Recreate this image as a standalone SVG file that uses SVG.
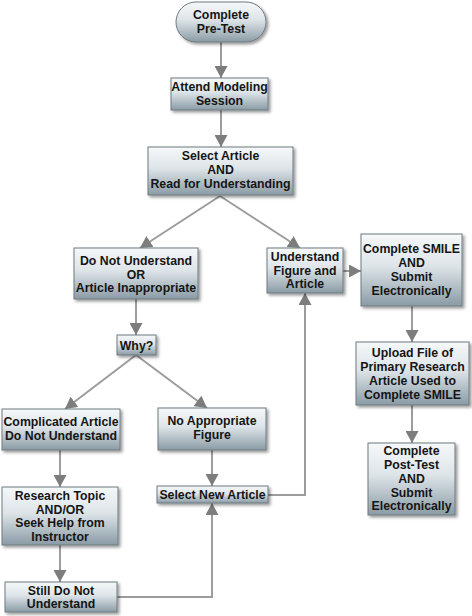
<svg xmlns="http://www.w3.org/2000/svg" width="472" height="616" viewBox="0 0 472 616">
<defs>
<linearGradient id="g" x1="0" y1="0" x2="0" y2="1">
<stop offset="0" stop-color="#f6f8f9"/>
<stop offset="0.45" stop-color="#dde4e8"/>
<stop offset="1" stop-color="#8a9ba5"/>
</linearGradient>
<filter id="sh" x="-10%" y="-10%" width="130%" height="140%">
<feDropShadow dx="2" dy="2" stdDeviation="1.5" flood-color="#000" flood-opacity="0.4"/>
</filter>
<marker id="ah" markerUnits="userSpaceOnUse" markerWidth="13" markerHeight="13" viewBox="0 0 12 12" refX="11" refY="6" orient="auto">
<path d="M0,0 L11,6 L0,12 Z" fill="#7d7d7d"/>
</marker>
<style>
.box{fill:url(#g);stroke:#6f7a80;stroke-width:1;filter:url(#sh)}
.t{font-family:"Liberation Sans",Arial,sans-serif;font-weight:bold;font-size:12.3px;fill:#151515;text-anchor:middle}
.c{fill:none;stroke:#9c9c9c;stroke-width:2}
.a{marker-end:url(#ah)}
</style>
</defs>
<g id="connectors">
<line class="c a" x1="221" y1="42" x2="221" y2="78"/>
<line class="c a" x1="221" y1="110" x2="221" y2="147"/>
<line class="c a" x1="220" y1="196" x2="140" y2="248"/>
<line class="c a" x1="220" y1="196" x2="300" y2="248"/>
<line class="c a" x1="136" y1="299" x2="136" y2="335"/>
<line class="c a" x1="136" y1="355" x2="65" y2="409"/>
<line class="c a" x1="136" y1="355" x2="207" y2="408"/>
<line class="c a" x1="343" y1="271" x2="361" y2="271"/>
<line class="c a" x1="412" y1="306" x2="412" y2="342"/>
<line class="c a" x1="412" y1="405" x2="412" y2="443"/>
<line class="c a" x1="60" y1="450" x2="60" y2="487"/>
<line class="c a" x1="60" y1="545" x2="60" y2="582"/>
<line class="c a" x1="212" y1="450" x2="212" y2="486"/>
<polyline class="c a" points="117,597 212,597 212,503"/>
<polyline class="c a" points="268,495 305,495 305,293"/>
</g>
<g id="pretest">
<rect class="box" x="176" y="2" width="90" height="40" rx="20"/>
<text class="t" x="221" y="19">Complete</text>
<text class="t" x="221" y="32.5">Pre-Test</text>
</g>
<g id="attend">
<rect class="box" x="171" y="78" width="97" height="32"/>
<text class="t" x="219.5" y="91">Attend Modeling</text>
<text class="t" x="219.5" y="104.5">Session</text>
</g>
<g id="select">
<rect class="box" x="148" y="147" width="145" height="48"/>
<text class="t" x="220.5" y="160">Select Article</text>
<text class="t" x="220.5" y="174">AND</text>
<text class="t" x="220.5" y="188">Read for Understanding</text>
</g>
<g id="dnu">
<rect class="box" x="74" y="248" width="124" height="51"/>
<text class="t" x="136" y="265">Do Not Understand</text>
<text class="t" x="136" y="278.5">OR</text>
<text class="t" x="136" y="292">Article Inappropriate</text>
</g>
<g id="why">
<rect class="box" x="117" y="335" width="39" height="20"/>
<text class="t" x="136.5" y="349.5">Why?</text>
</g>
<g id="understand">
<rect class="box" x="267" y="248" width="76" height="45"/>
<text class="t" x="305" y="261">Understand</text>
<text class="t" x="305" y="274.5">Figure and</text>
<text class="t" x="305" y="288">Article</text>
</g>
<g id="smile">
<rect class="box" x="361" y="234" width="101" height="72"/>
<text class="t" x="411.5" y="253">Complete SMILE</text>
<text class="t" x="411.5" y="267">AND</text>
<text class="t" x="411.5" y="281">Submit</text>
<text class="t" x="411.5" y="295">Electronically</text>
</g>
<g id="upload">
<rect class="box" x="356" y="342" width="113" height="63"/>
<text class="t" x="412.5" y="357">Upload File of</text>
<text class="t" x="412.5" y="371">Primary Research</text>
<text class="t" x="412.5" y="385">Article Used to</text>
<text class="t" x="412.5" y="399">Complete SMILE</text>
</g>
<g id="posttest">
<rect class="box" x="368" y="443" width="87" height="72"/>
<text class="t" x="411.5" y="455">Complete</text>
<text class="t" x="411.5" y="469">Post-Test</text>
<text class="t" x="411.5" y="483">AND</text>
<text class="t" x="411.5" y="496.5">Submit</text>
<text class="t" x="411.5" y="510">Electronically</text>
</g>
<g id="complicated">
<rect class="box" x="2" y="409" width="118" height="41"/>
<text class="t" x="61" y="426">Complicated Article</text>
<text class="t" x="61" y="440">Do Not Understand</text>
</g>
<g id="nofig">
<rect class="box" x="158" y="408" width="108" height="42"/>
<text class="t" x="212" y="425">No Appropriate</text>
<text class="t" x="212" y="439">Figure</text>
</g>
<g id="selectnew">
<rect class="box" x="157" y="486" width="111" height="17"/>
<text class="t" x="212.5" y="499">Select New Article</text>
</g>
<g id="research">
<rect class="box" x="2" y="487" width="116" height="58"/>
<text class="t" x="60" y="500">Research Topic</text>
<text class="t" x="60" y="513.5">AND/OR</text>
<text class="t" x="60" y="527">Seek Help from</text>
<text class="t" x="60" y="540.5">Instructor</text>
</g>
<g id="still">
<rect class="box" x="5" y="582" width="112" height="30"/>
<text class="t" x="61" y="594.5">Still Do Not</text>
<text class="t" x="61" y="608">Understand</text>
</g>
</svg>
